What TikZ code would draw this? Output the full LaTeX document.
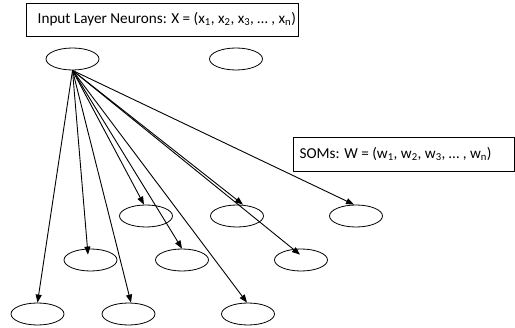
\documentclass[tikz,border=0pt]{standalone}
\usepackage{fontspec}
\setmainfont{Carlito}
\usetikzlibrary{arrows.meta,shapes.geometric}
\begin{document}
\begin{tikzpicture}[x=1pt,y=-1pt,
  neuron/.style={draw,ellipse,line width=0.8pt,minimum width=53pt,minimum height=22pt,inner sep=0pt},
  link/.style={line width=0.9pt,-{Triangle[length=8pt,width=6pt]}},
  caption/.style={anchor=west,inner sep=0pt,font=\fontsize{15.2}{17}\selectfont}]
\useasboundingbox (0,0) rectangle (515,328);
% captions in framed boxes
\draw[line width=0.8pt] (26,3) rectangle (298,36);
\node[caption] (inlabel) at (37.5,19.5) {Input Layer Neurons: X = (x\textsubscript{1}, x\textsubscript{2}, x\textsubscript{3}, … , x\textsubscript{n})};
\draw[line width=0.8pt] (293,137) rectangle (514,171);
\node[caption] (somlabel) at (299.5,154) {SOMs: W = (w\textsubscript{1}, w\textsubscript{2}, w\textsubscript{3}, … , w\textsubscript{n})};
% input layer
\node[neuron] (in1) at (72.5,59) {};
\node[neuron] (in2) at (236,59) {};
% map neurons
\node[neuron] (m1) at (146,216) {};
\node[neuron] (m2) at (237,216) {};
\node[neuron] (m3) at (356,216) {};
\node[neuron] (m4) at (90.5,260) {};
\node[neuron] (m5) at (182,260) {};
\node[neuron] (m6) at (301,260) {};
\node[neuron] (m7) at (37.5,314) {};
\node[neuron] (m8) at (128.5,314) {};
\node[neuron] (m9) at (248,314) {};
% weighted connections from the first input neuron
\coordinate (src) at (in1.south);
\draw[link] (src) -- (m7.north);
\draw[link] (src) -- ([shift={(-2.5,6)}]m4.north);
\draw[link] (src) -- ([xshift=2.5]m8.north);
\draw[link] (src) -- ([xshift=-2]m1.north);
\draw[link] (src) -- (m5.north);
\draw[link] (src) -- ([xshift=-1]m9.north);
\draw[link] (src) -- ([xshift=6]m2.north);
\draw[link] (src) -- ([shift={(-1,6)}]m6.north);
\draw[link] (src) -- ([xshift=-2]m3.north);
\end{tikzpicture}
\end{document}
